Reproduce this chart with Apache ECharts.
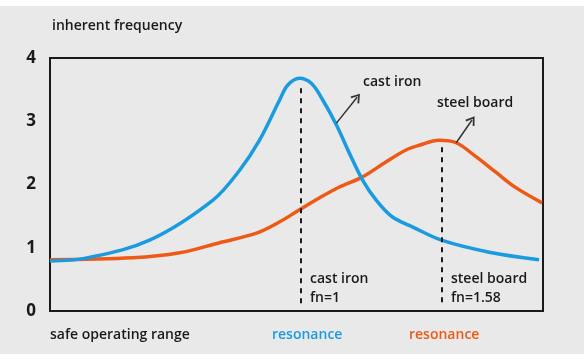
<!DOCTYPE html>
<html><head><meta charset="utf-8">
<script src="https://cdn.jsdelivr.net/npm/echarts@6/dist/echarts.min.js"></script>
<style>html,body{margin:0;padding:0;background:#fff;}#c{width:584px;height:362px;}</style>
</head><body><div id="c"></div>
<script>
// x: relative excitation frequency (0..100 across plot), y: response
var castIronX = [0, 7.5, 20.2, 33.0, 38.5, 42.5, 46.6, 48.2, 50.6, 53.0, 55.3, 58.1, 60.7, 63.4, 66.2, 69.4, 73.5, 79.4, 89.1, 99.2];
var castIronY = [0.79, 0.84, 1.12, 1.75, 2.23, 2.70, 3.34, 3.57, 3.68, 3.60, 3.34, 2.94, 2.50, 2.07, 1.75, 1.49, 1.33, 1.12, 0.93, 0.81];
var steelX = [0, 16.8, 26.3, 34.4, 41.9, 46.6, 50.6, 54.7, 58.7, 63.4, 68.2, 72.3, 74.9, 78.9, 82.4, 86.4, 90.5, 94.5, 99.8];
var steelY = [0.81, 0.84, 0.92, 1.08, 1.23, 1.41, 1.60, 1.79, 1.96, 2.12, 2.36, 2.55, 2.62, 2.70, 2.66, 2.44, 2.19, 1.95, 1.71];
var yTicks = [0, 1, 2, 3, 4];
var castIronRes = {x: 50.8, top: 3.52, bottom: 0.09};
var steelRes = {x: 79.4, top: 2.59, bottom: 0.09};
var castArrow = [[58.1, 2.97], [62.3, 3.38]];
var steelArrow = [[82.4, 2.66], [85.6, 3.02]];

var BLUE = '#1a9be0', ORANGE = '#ee5a16', INK = '#1a1a1a';
var FONT = '"Open Sans", sans-serif';
function zip(a, b) { return a.map(function (v, i) { return [v, b[i]]; }); }
var chev = 'path://M5,0 L10,9 L8.6,10 L5,3.4 L1.4,10 L0,9 Z';

var chart = echarts.init(document.getElementById('c'));
function txt(x, y, s, color, size, weight, align) {
  return {type: 'text', x: x, y: y, style: {text: s, fill: color || INK, font: (weight || 600) + ' ' + (size || 14) + 'px ' + FONT, textAlign: align || 'left', textVerticalAlign: 'middle'}};
}
chart.setOption({
  animation: false,
  backgroundColor: '#fff',
  grid: {left: 50, right: 41, top: 58, bottom: 51, show: true, borderColor: INK, borderWidth: 2, backgroundColor: 'transparent'},
  xAxis: {type: 'value', min: 0, max: 100, show: false},
  yAxis: {type: 'value', min: 0, max: 4, interval: 1,
    axisLine: {show: true, lineStyle: {color: INK, width: 2}}, axisTick: {show: false}, splitLine: {show: false},
    axisLabel: {margin: 14, color: INK, fontSize: 17, fontWeight: 'bold', fontFamily: FONT,
      formatter: function (v) { return yTicks.indexOf(v) >= 0 ? String(v) : ''; }}},
  graphic: [
    {type: 'rect', z: -100, silent: true, shape: {x: 0, y: 6, width: 584, height: 348}, style: {fill: '#e8e9e8'}},
    txt(52, 26, 'inherent frequency'),
    txt(363, 82, 'cast iron'),
    txt(437, 103, 'steel board'),
    txt(310, 279, 'cast iron'),
    txt(310, 298, 'fn=1'),
    txt(451, 279, 'steel board'),
    txt(451, 298, 'fn=1.58'),
    txt(50, 335, 'safe operating range'),
    txt(272, 335, 'resonance', BLUE),
    txt(409, 335, 'resonance', ORANGE)
  ],
  series: [
    {type: 'line', data: zip(steelX, steelY), smooth: 0.35, showSymbol: false, lineStyle: {color: ORANGE, width: 3.5}, z: 3},
    {type: 'line', data: zip(castIronX, castIronY), smooth: 0.35, showSymbol: false, lineStyle: {color: BLUE, width: 3.5}, z: 4},
    {type: 'line', data: [], silent: true,
      markLine: {silent: true, animation: false, label: {show: false},
        data: [
          [{coord: [castIronRes.x, castIronRes.top], symbol: 'none'}, {coord: [castIronRes.x, castIronRes.bottom], symbol: 'none'}],
          [{coord: [steelRes.x, steelRes.top], symbol: 'none'}, {coord: [steelRes.x, steelRes.bottom], symbol: 'none'}]
        ],
        lineStyle: {color: INK, width: 2, type: [5, 5]}}},
    {type: 'line', data: [], silent: true,
      markLine: {silent: true, animation: false, label: {show: false}, symbol: ['none', chev], symbolSize: [11, 9],
        data: [
          [{coord: castArrow[0]}, {coord: castArrow[1]}],
          [{coord: steelArrow[0]}, {coord: steelArrow[1]}]
        ],
        lineStyle: {color: '#333', width: 1.5, type: 'solid'}}}
  ]
});
</script></body></html>
